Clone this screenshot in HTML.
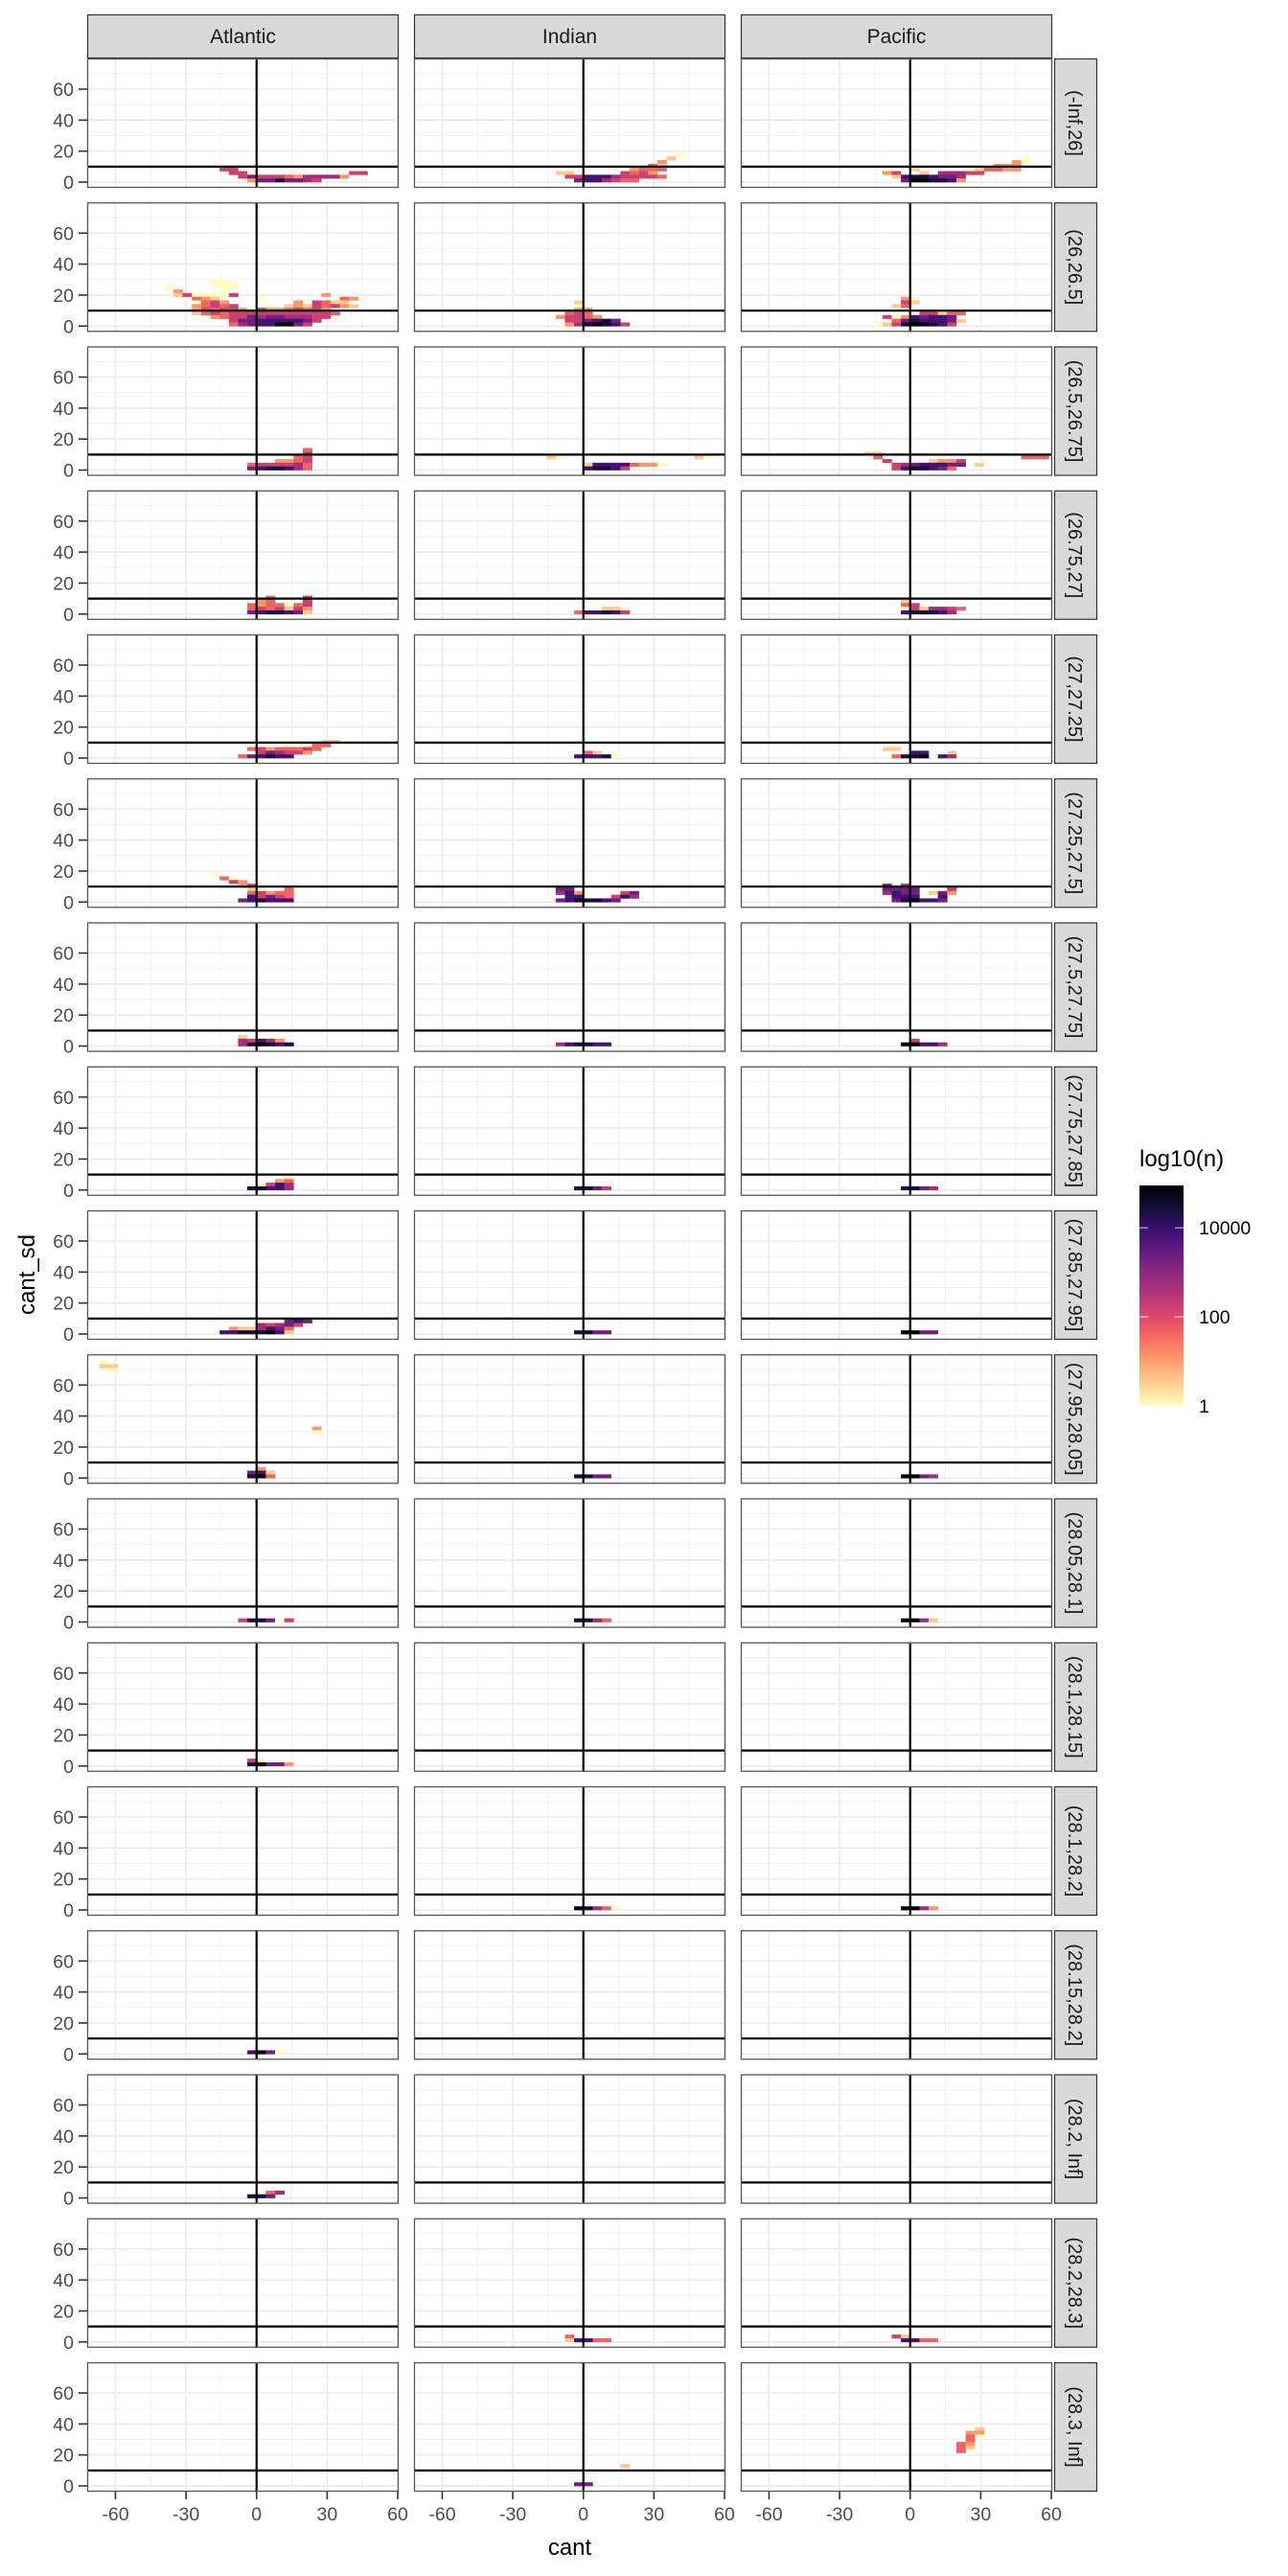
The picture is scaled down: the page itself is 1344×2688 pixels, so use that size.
<!DOCTYPE html>
<html><head><meta charset="utf-8">
<style>
html,body{margin:0;padding:0;background:#fff;}
svg{display:block;font-family:"Liberation Sans",Arial,sans-serif;}
</style></head>
<body>
<svg id="chart" width="1344" height="2688" viewBox="0 0 1344 2688" xmlns="http://www.w3.org/2000/svg">
<rect x="0" y="0" width="1344" height="2688" fill="#fff"/>
</svg>
<script>
const oceans = ['Atlantic','Indian','Pacific'];
const layers = ['(-Inf,26]','(26,26.5]','(26.5,26.75]','(26.75,27]','(27,27.25]','(27.25,27.5]','(27.5,27.75]','(27.75,27.85]','(27.85,27.95]','(27.95,28.05]','(28.05,28.1]','(28.1,28.15]','(28.1,28.2]','(28.15,28.2]','(28.2, Inf]','(28.2,28.3]','(28.3, Inf]'];
const xTicks = [-60,-30,0,30,60];
const yTicks = [0,20,40,60];
const legendTicks = [1,100,10000];
const xDomain = [-72, 60.4];
const yDomain = [-3.7, 79.8];
const binW = 3.93;
const binH = 2.37;
const vlineX = 0;
const hlineY = 10;
// tile rows: "j,i0,digits" ; digit d => log10(n) = d*0.55 ; '.' = empty
const atlanticTiles = [
 ["3,-4,44","2,-3,440..........44","1,-2,464443255552","0,-1,26686654"],
 ["12,-5,00","11,-5,000","10,-10,0.....00","9,-9,2....0","8,-9,1400004.........2","7,-7,321....0........32","6,-7,0342.......2.4311","5,-7,23434...0.12143421","4,-8,0243442042234342","3,-7,1343444444444443","2,-5,2344656655544","1,-3,4667777764","0,-3,356779964"],
 ["5,5,3","4,5,4","3,4,34","2,2,2234","1,-1,3444453","0,-1,6788753"],
 ["4,1,3...4","3,0,23...4","2,-1,3233034","1,-1,3434142","0,-1,6788761"],
 ["4,7,11","3,3,0.033","2,-1,34233343","1,0,465442","0,-2,367877"],
 ["7,-5,0","6,-4,30","5,-3,42","4,-2,24","3,-1,10..3","2,-1,34233","1,-1,74643","0,-2,678777"],
 ["2,-2,1","1,-2,54752","0,-2,589878"],
 ["3,3,0","2,2,23","1,0,0475","0,-1,88775"],
 ["3,3,676","2,0,54564","1,-3,2115763","0,-4,77888971"],
 ["31,-17,0","30,-17,11","29,-16,0","13,6,2","12,6,0","2,0,2","1,-1,671","0,-1,893"],
 ["0,-2,488604"],
 ["1,-1,40","0,-1,89662"],
 [],
 ["0,-1,7960"],
 ["1,1,35","0,-1,886"],
 [],
 []
];
const indianTiles = [
 ["7,10,0","6,9,1","5,8,2","4,7,31","3,5,2333","2,-3,11.....4342","1,-2,44777544443","0,-1,6775433"],
 ["6,-1,1","5,-1,0","4,-1,22","3,-2,343","2,-3,24432","1,-2,446786","0,-2,2589874"],
 ["3,-4,10..............10","1,0,177773220","0,0,78874"],
 ["1,2,110","0,-1,377874"],
 ["1,0,31","0,-1,77780"],
 ["3,-3,66","2,-3,572....46","1,-2,77...475","0,-3,6788876"],
 ["0,-3,578877"],
 ["0,-1,8864"],
 ["0,-1,8866"],
 ["0,-1,8866"],
 ["0,-1,8853"],
 [],
 ["0,-1,98530"],
 [],
 [],
 ["1,-2,3","0,-2,17733"],
 ["5,4,1","0,-1,66"]
];
const pacificTiles = [
 ["6,12,0","5,11,20","4,9,222","3,-3,0..1.....013322","2,-3,24..1.55544","1,-2,17887665","0,-1,6998872"],
 ["7,-1,20","6,-1,41","5,-2,13","3,1,44133","2,-3,40276776","1,-2,36877761","0,-4,014899874"],
 ["4,-5,11","3,-4,3...............333","2,-3,4....1224","1,-2,45677766 1","0,-2,4788763"],
 ["3,-1,1","2,-1,34","1,-1,0415543","0,-1,788875"],
 ["2,-3,11","1,0,77..1","0,-2,3889 75"],
 ["4,-4,06.5","3,-3,6666...4","2,-3,5766.162","1,-2,777..7","0,-2,689776"],
 ["1,0,4","0,-1,99775"],
 ["0,-1,8865"],
 ["0,-1,9966"],
 ["0,-1,9965"],
 ["0,-1,9951"],
 [],
 ["0,-1,9952"],
 [],
 [],
 ["1,-2,41","0,-1,7733"],
 ["15,7,1","14,6,22","13,6,30","12,6,3","11,5,32","10,5,31","9,5,3"]
];
const tileSets = [atlanticTiles, indianTiles, pacificTiles];

const NS = 'http://www.w3.org/2000/svg';
const svg = document.getElementById('chart');
const P = {left0:91, colPitch:341, w:325, top0:61, rowPitch:150.25, h:135};
function el(tag, attrs, parent){
  const e = document.createElementNS(NS, tag);
  for (const k in attrs) e.setAttribute(k, attrs[k]);
  (parent||svg).appendChild(e);
  return e;
}
function xs(c, v){ return P.left0 + c*P.colPitch + (v - xDomain[0]) / (xDomain[1]-xDomain[0]) * P.w; }
function ys(r, v){ const top = P.top0 + r*P.rowPitch; return top + P.h - (v - yDomain[0]) / (yDomain[1]-yDomain[0]) * P.h; }
const magma = ['#000004','#140e36','#3b0f70','#641a80','#8c2981','#b73779','#de4968','#f7705c','#fe9f6d','#fecf92','#fcfdbf'];
function hex(h){ return [parseInt(h.substr(1,2),16),parseInt(h.substr(3,2),16),parseInt(h.substr(5,2),16)]; }
function magmaColor(t){
  t = Math.max(0, Math.min(1, t));
  const p = t*10, i = Math.min(9, Math.floor(p)), f = p - i;
  const a = hex(magma[i]), b = hex(magma[i+1]);
  return 'rgb(' + a.map((v,k)=>Math.round(v+(b[k]-v)*f)).join(',') + ')';
}
const maxLog = 4.95;
function fillFor(logn){ return magmaColor(1 - logn/maxLog); }

// column strips
oceans.forEach((name, c) => {
  const g = el('g', {});
  
  
  el('rect', {x: P.left0 + c*P.colPitch + 0.5, y: 15.5, width: P.w - 1, height: 45, fill: '#d9d9d9', stroke: '#333', 'stroke-width': 1.2}, g);
  const t = el('text', {x: P.left0 + c*P.colPitch + P.w/2, y: 45, 'text-anchor': 'middle', 'font-size': 21, fill: '#1a1a1a'}, g);
  t.textContent = name;
});

for (let r = 0; r < layers.length; r++) {
  const top = P.top0 + r*P.rowPitch;
  for (let c = 0; c < 3; c++) {
    const left = P.left0 + c*P.colPitch;
    const g = el('g', {});
    
    
    el('rect', {x:left, y:top, width:P.w, height:P.h, fill:'#fff'}, g);
    // minor grid
    [-75,-45,-15,15,45].forEach(v => { const x = xs(c,v); if (x>left && x<left+P.w) el('line', {x1:x, x2:x, y1:top, y2:top+P.h, stroke:'#f2f2f2', 'stroke-width':1}, g); });
    [10,30,50,70].forEach(v => { const y = ys(r,v); el('line', {x1:left, x2:left+P.w, y1:y, y2:y, stroke:'#f2f2f2', 'stroke-width':1}, g); });
    xTicks.forEach(v => { const x = xs(c,v); el('line', {x1:x, x2:x, y1:top, y2:top+P.h, stroke:'#ebebeb', 'stroke-width':1.6}, g); });
    yTicks.forEach(v => { const y = ys(r,v); el('line', {x1:left, x2:left+P.w, y1:y, y2:y, stroke:'#ebebeb', 'stroke-width':1.6}, g); });
    // tiles
    const rows = tileSets[c][r];
    rows.forEach(spec => {
      const parts = spec.split(',');
      const j = parseInt(parts[0]), i0 = parseInt(parts[1]), digits = parts[2];
      for (let k = 0; k < digits.length; k++) {
        const ch = digits[k];
        if (ch < '0' || ch > '9') continue;
        const i = i0 + k;
        const x0 = xs(c, i*binW), x1 = xs(c, (i+1)*binW);
        const y0 = ys(r, (j+1)*binH), y1 = ys(r, j*binH);
        const rect = el('rect', {x:x0.toFixed(2), y:y0.toFixed(2), width:(x1-x0+0.3).toFixed(2), height:(y1-y0+0.3).toFixed(2), fill: fillFor(parseInt(ch)*0.55)}, g);
        
        
      }
    });
    // reference lines
    const vx = xs(c, vlineX), hy = ys(r, hlineY);
    const vl = el('line', {x1:vx, x2:vx, y1:top, y2:top+P.h, stroke:'#000', 'stroke-width':2.2}, g);
    
    
    const hl = el('line', {x1:left, x2:left+P.w, y1:hy, y2:hy, stroke:'#000', 'stroke-width':2.2}, g);
    
    
    el('rect', {x:left+0.5, y:top+0.5, width:P.w-1, height:P.h-1, fill:'none', stroke:'#555', 'stroke-width':1.3}, g);
    // y axis on first column
    if (c === 0) {
      yTicks.forEach(v => {
        const y = ys(r, v);
        el('line', {x1:82, x2:91, y1:y, y2:y, stroke:'#333', 'stroke-width':1.6}, g);
        const t = el('text', {x:77, y:y+7, 'text-anchor':'end', 'font-size':19.5, fill:'#4d4d4d'}, g);
        
        
        t.textContent = v;
      });
    }
    // x axis on last row
    if (r === layers.length - 1) {
      xTicks.forEach(v => {
        const x = xs(c, v);
        el('line', {x1:x, x2:x, y1:top+P.h, y2:top+P.h+8, stroke:'#333', 'stroke-width':1.6}, g);
        const t = el('text', {x:x, y:top+P.h+30, 'text-anchor':'middle', 'font-size':19.5, fill:'#4d4d4d'}, g);
        
        
        t.textContent = v;
      });
    }
  }
  // right strip
  const sg = el('g', {});
  
  
  el('rect', {x:1100.5, y:top+0.5, width:44, height:P.h-1, fill:'#d9d9d9', stroke:'#333', 'stroke-width':1.2}, sg);
  const st = el('text', {x:0, y:0, 'text-anchor':'middle', 'font-size':20, fill:'#1a1a1a', transform:'translate(1115,' + (top + P.h/2) + ') rotate(90)'}, sg);
  st.textContent = layers[r];
}

// axis titles
const xt = el('text', {x:594.5, y:2666, 'text-anchor':'middle', 'font-size':24, fill:'#000'});


xt.textContent = 'cant';
const yt = el('text', {x:0, y:0, 'text-anchor':'middle', 'font-size':24, fill:'#000', transform:'translate(36,1330) rotate(-90)'});


yt.textContent = 'cant_sd';

// legend
const lg = el('g', {});


const defs = el('defs', {}, lg);
const grad = el('linearGradient', {id:'magmaGrad', x1:0, y1:1, x2:0, y2:0}, defs);
for (let k = 0; k <= 20; k++) {
  el('stop', {offset: (k/20), 'stop-color': magmaColor(1 - k/20)}, grad);
}
const lt = el('text', {x:1189, y:1217, 'font-size':24, fill:'#000'}, lg);


lt.textContent = 'log10(n)';
const barTop = 1237, barBot = 1467;
const bar = el('rect', {x:1189, y:barTop, width:46, height:barBot-barTop, fill:'url(#magmaGrad)'}, lg);


legendTicks.forEach(v => {
  const y = barBot - Math.log10(v)/maxLog*(barBot-barTop);
  el('line', {x1:1189, x2:1198, y1:y, y2:y, stroke:'#fff', 'stroke-width':1, opacity:0.8}, lg);
  el('line', {x1:1226, x2:1235, y1:y, y2:y, stroke:'#fff', 'stroke-width':1, opacity:0.8}, lg);
  const t = el('text', {x:1251, y:y+7, 'font-size':19.5, fill:'#000'}, lg);
  
  
  t.textContent = v;
});
</script>
</body></html>
